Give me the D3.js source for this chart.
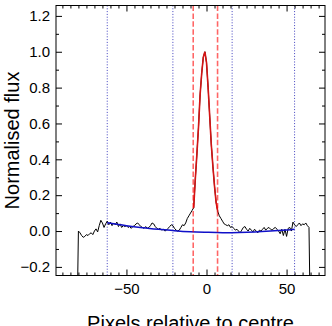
<!DOCTYPE html>
<head>
  <meta charset="utf-8">
  <script src="https://cdn.jsdelivr.net/npm/d3@7"></script>
  <style>
    body { margin: 0; background: white; }
    text { font-family: "Liberation Sans", Arial, sans-serif; }
  </style>
</head>
<body>
  <div id="chart"></div>
  <script>

  // flux per pixel, starting at pixel -81
  var pixelStart = -81;
  var flux = [
    -0.6, 0.0, -0.01, -0.025, -0.035, -0.03, -0.02, -0.025, -0.015, -0.01,
    -0.02, 0.0, 0.012, -0.005, 0.03, 0.06, 0.045, 0.02, 0.04, 0.055,
    0.035, 0.05, 0.03, 0.045, 0.035, 0.05, 0.025, 0.04, 0.02, 0.03,
    0.025, 0.03, 0.02, 0.025, 0.015, 0.025, 0.03, 0.04, 0.045, 0.035,
    0.025, 0.02, 0.015, 0.025, 0.015, 0.02, 0.03, 0.045, 0.04, 0.025,
    0.015, 0.01, 0.015, 0.005, 0.01, 0.0, 0.005, 0.015, 0.025, 0.035,
    0.03, 0.015, 0.005, 0.0, 0.005, 0.02, 0.035, 0.03, 0.045, 0.07,
    0.085, 0.10, 0.115, 0.13, 0.29, 0.43, 0.58, 0.76, 0.88, 0.97,
    1.00, 0.94, 0.80, 0.64, 0.48, 0.36, 0.25, 0.16, 0.11, 0.085,
    0.07, 0.055, 0.04, 0.035, 0.03, 0.035, 0.02, 0.025, 0.015, 0.005,
    0.01, 0.0, -0.01, 0.005, 0.02, 0.025, 0.01, 0.0, 0.015, 0.005,
    -0.005, 0.01, 0.0, -0.01, 0.005, 0.0, 0.01, 0.02, 0.005, 0.015,
    0.02, 0.01, 0.005, 0.015, 0.02, 0.01, 0.0, -0.015, 0.01, -0.025,
    0.01, -0.03, 0.015, 0.02, 0.0, 0.05, 0.035, 0.025, 0.035, 0.045,
    0.03, 0.04, 0.035, 0.045, 0.03, 0.02, -0.6
  ];

  // background fit (blue)
  var bgPixels = [-62, -55, -50, -40, -30, -20, -10, 0, 10, 20, 30, 40, 50, 55];
  var bgFlux   = [0.046, 0.037, 0.030, 0.019, 0.010, 0.002, -0.004, -0.007, -0.009, -0.008, -0.005, 0.0, 0.006, 0.010];

  var peakRange = [-8, 7];
  var apertureLines = [-8.3, 6.9];
  var backgroundLines = [-62, -21, 16, 55];

  var xMajor = [-50, 0, 50];
  var yMajor = [-0.2, 0.0, 0.2, 0.4, 0.6, 0.8, 1.0, 1.2];

  var width = 332, height = 326;
  var plotLeft = 56, plotRight = 325, plotTop = 5.5, plotBottom = 275.5;

  var svg = d3.select("#chart").append("svg")
    .attr("width", width)
    .attr("height", height);

  svg.append("rect").attr("width", width).attr("height", height).style("fill", "white");

  var x = d3.scaleLinear().domain([-94, 74]).range([plotLeft, plotRight]);
  var y = d3.scaleLinear().domain([-0.248, 1.258]).range([plotBottom, plotTop]);

  svg.append("clipPath").attr("id", "plotClip")
    .append("rect")
    .attr("x", plotLeft).attr("y", plotTop)
    .attr("width", plotRight - plotLeft).attr("height", plotBottom - plotTop);

  var plot = svg.append("g").attr("clip-path", "url(#plotClip)");

  var data = flux.map(function(v, i) { return { px: pixelStart + i, f: v }; });

  var line = d3.line()
    .x(function(d) { return x(d.px); })
    .y(function(d) { return y(d.f); });

  // vertical markers
  plot.selectAll(".bgline")
    .data(backgroundLines)
    .enter().append("line")
    .attr("x1", function(d) { return x(d); })
    .attr("x2", function(d) { return x(d); })
    .attr("y1", plotTop).attr("y2", plotBottom)
    .style("stroke", "#2a2ab8")
    .style("stroke-width", 0.9)
    .style("stroke-dasharray", "1,1.8");

  plot.append("path")
    .datum(data)
    .attr("d", line)
    .style("fill", "none")
    .style("stroke", "black")
    .style("stroke-width", 1);

  plot.append("path")
    .datum(data.filter(function(d) { return d.px >= peakRange[0] && d.px <= peakRange[1]; }))
    .attr("d", line)
    .style("fill", "none")
    .style("stroke", "#d41414")
    .style("stroke-width", 1.6);

  plot.append("path")
    .datum(bgPixels.map(function(p, i) { return { px: p, f: bgFlux[i] }; }))
    .attr("d", line.curve(d3.curveNatural))
    .style("fill", "none")
    .style("stroke", "#1010c8")
    .style("stroke-width", 1.5);

  plot.selectAll(".apline")
    .data(apertureLines)
    .enter().append("line")
    .attr("x1", function(d) { return x(d); })
    .attr("x2", function(d) { return x(d); })
    .attr("y1", plotTop).attr("y2", plotBottom)
    .style("stroke", "red")
    .style("stroke-opacity", 0.6)
    .style("stroke-width", 1.6)
    .style("stroke-dasharray", "5.5,2.4");

  // axes with inward ticks on all four sides
  var xMinor = d3.range(-90, 75, 5).filter(function(v) { return xMajor.indexOf(v) < 0; });
  var yMinor = [-0.1, 0.1, 0.3, 0.5, 0.7, 0.9, 1.1];

  function drawAxis(axisFn, scale, major, minor, transform, labels) {
    var g = svg.append("g").attr("transform", transform);
    g.call(axisFn(scale).tickValues(minor).tickSize(-3).tickSizeOuter(0).tickFormat(""));
    var g2 = svg.append("g").attr("transform", transform);
    g2.call(axisFn(scale).tickValues(major).tickSize(-6).tickSizeOuter(0)
      .tickPadding(labels ? (axisFn === d3.axisBottom ? 8 : 6) : 0)
      .tickFormat(labels ? function(d) { return d3.format(axisFn === d3.axisBottom ? "d" : ".1f")(d).replace("-", "\u2212"); } : ""));
    svg.selectAll(".domain").remove();
    g2.selectAll("text").style("font-size", "15px").style("font-family", "'Liberation Sans', Arial, sans-serif").style("fill", "black");
    g.selectAll("line").style("stroke", "black");
    g2.selectAll("line").style("stroke", "black");
  }

  drawAxis(d3.axisBottom, x, xMajor, xMinor, "translate(0," + plotBottom + ")", true);
  drawAxis(d3.axisTop, x, xMajor, xMinor, "translate(0," + plotTop + ")", false);
  drawAxis(d3.axisLeft, y, yMajor, yMinor, "translate(" + plotLeft + ",0)", true);
  drawAxis(d3.axisRight, y, yMajor, yMinor, "translate(" + plotRight + ",0)", false);

  svg.append("rect")
    .attr("x", plotLeft).attr("y", plotTop)
    .attr("width", plotRight - plotLeft).attr("height", plotBottom - plotTop)
    .style("fill", "none")
    .style("stroke", "black")
    .style("stroke-width", 1);

  svg.append("text")
    .attr("x", (plotLeft + plotRight) / 2)
    .attr("y", 330)
    .attr("text-anchor", "middle")
    .style("font-size", "20px")
    .text("Pixels relative to centre");

  svg.append("text")
    .attr("transform", "translate(19," + ((plotTop + plotBottom) / 2) + ") rotate(-90)")
    .attr("text-anchor", "middle")
    .style("font-size", "20px")
    .text("Normalised flux");

  </script>
</body>
